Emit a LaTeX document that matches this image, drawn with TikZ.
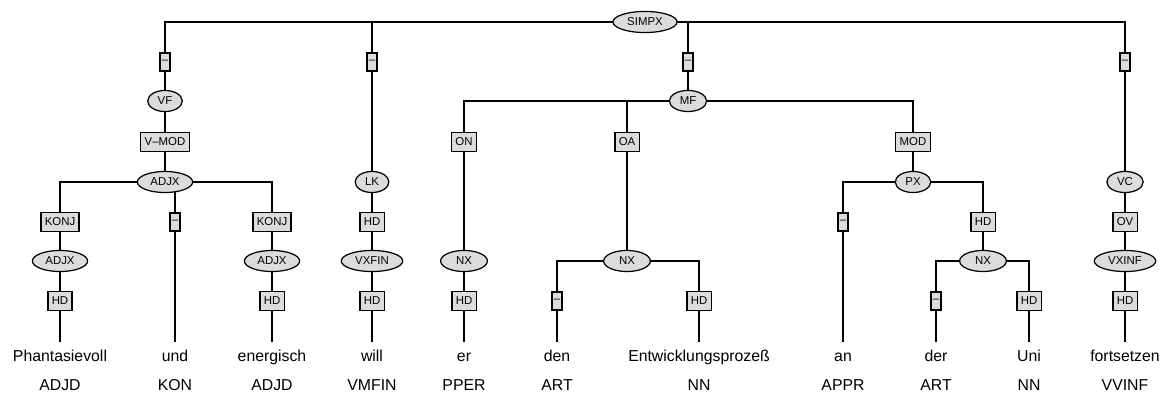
\documentclass[tikz,border=0pt]{standalone}
\usepackage{fontspec}
\setmainfont{Liberation Sans}
\usetikzlibrary{shapes.geometric, backgrounds}

\definecolor{nodegray}{RGB}{219,221,219}

\begin{document}
\begin{tikzpicture}[x=0.02cm, y=-0.02cm,
            catnode/.style={draw, ellipse, fill=nodegray, line width=0.7pt, inner xsep=2.8pt, inner ysep=0.5pt, minimum height=12pt, font=\fontsize{6.5}{7}\selectfont},
            widecat/.style={catnode, minimum width=26.6pt},
            fnbox/.style={draw, rectangle, fill=nodegray, line width=0.7pt, inner xsep=2.2pt, inner ysep=0pt, minimum height=10.8pt, font=\fontsize{6.5}{7}\selectfont},
            dashbox/.style={fnbox, inner xsep=1pt, minimum height=10.2pt},
            wordnode/.style={anchor=base, inner ysep=4.3pt, text height=7pt, font=\fontsize{9}{10}\selectfont},
            tagnode/.style={anchor=base, font=\fontsize{9}{10}\selectfont},
            link/.style={line width=0.7pt}
        ]
        \useasboundingbox (0,0) rectangle (1162,394);

        % --- top level ---
        \node[catnode] (simpx) at (645,22) {SIMPX};

        % --- VF ---
        \node[dashbox] (vfd) at (165,62) {--};
        \node[catnode] (vf) at (165,101) {VF};
        \node[fnbox] (vmod) at (165,142) {V--MOD};
        \node[catnode] (adjx) at (165,182) {ADJX};
        \node[fnbox] (konja) at (60,222) {KONJ};
        \node[catnode] (adjxa) at (60,261) {ADJX};
        \node[fnbox] (hda) at (60,301) {HD};
        \node[dashbox] (kond) at (175,222) {--};
        \node[fnbox] (konjb) at (272,222) {KONJ};
        \node[catnode] (adjxb) at (272,261) {ADJX};
        \node[fnbox] (hdb) at (272,301) {HD};

        % --- LK ---
        \node[dashbox] (lkd) at (372,62) {--};
        \node[catnode] (lk) at (372,182) {LK};
        \node[fnbox] (hdlk) at (372,222) {HD};
        \node[catnode] (vxfin) at (372,261) {VXFIN};
        \node[fnbox] (hdfin) at (372,301) {HD};

        % --- MF ---
        \node[dashbox] (mfd) at (688,62) {--};
        \node[catnode] (mf) at (688,101) {MF};
        \node[fnbox] (on) at (464,142) {ON};
        \node[widecat] (nxon) at (464,261) {NX};
        \node[fnbox] (hdon) at (464,301) {HD};
        \node[fnbox] (oa) at (627,142) {OA};
        \node[widecat] (nxoa) at (627,261) {NX};
        \node[dashbox] (artd) at (557,301) {--};
        \node[fnbox] (hdoa) at (699,301) {HD};
        \node[fnbox] (mod) at (913,142) {MOD};
        \node[catnode] (px) at (913,182) {PX};
        \node[dashbox] (apprd) at (843,222) {--};
        \node[fnbox] (hdpx) at (983,222) {HD};
        \node[widecat] (nxpx) at (983,261) {NX};
        \node[dashbox] (artbd) at (936,301) {--};
        \node[fnbox] (hdnx) at (1029,301) {HD};

        % --- VC ---
        \node[dashbox] (vcd) at (1125,62) {--};
        \node[catnode] (vc) at (1125,182) {VC};
        \node[fnbox] (ov) at (1125,222) {OV};
        \node[catnode] (vxinf) at (1125,261) {VXINF};
        \node[fnbox] (hdinf) at (1125,301) {HD};

        % --- words and tags ---
        \node[wordnode] (wa) at (60,362) {Phantasievoll};
        \node[wordnode] (wb) at (175,362) {und};
        \node[wordnode] (wc) at (272,362) {energisch};
        \node[wordnode] (wd) at (372,362) {will};
        \node[wordnode] (we) at (464,362) {er};
        \node[wordnode] (wf) at (557,362) {den};
        \node[wordnode] (wg) at (699,362) {Entwicklungsprozeß};
        \node[wordnode] (wh) at (843,362) {an};
        \node[wordnode] (wi) at (936,362) {der};
        \node[wordnode] (wj) at (1029,362) {Uni};
        \node[wordnode] (wk) at (1125,362) {fortsetzen};
        \node[tagnode] (ta) at (60,391) {ADJD};
        \node[tagnode] (tb) at (175,391) {KON};
        \node[tagnode] (tc) at (272,391) {ADJD};
        \node[tagnode] (td) at (372,391) {VMFIN};
        \node[tagnode] (te) at (464,391) {PPER};
        \node[tagnode] (tf) at (557,391) {ART};
        \node[tagnode] (tg) at (699,391) {NN};
        \node[tagnode] (th) at (843,391) {APPR};
        \node[tagnode] (ti) at (936,391) {ART};
        \node[tagnode] (tj) at (1029,391) {NN};
        \node[tagnode] (tk) at (1125,391) {VVINF};

        % --- edges ---
        \begin{scope}[on background layer]
        \draw[link] (simpx.center) -| (vfd.center);
        \draw[link] (simpx.center) -| (lkd.center);
        \draw[link] (simpx.center) -| (mfd.center);
        \draw[link] (simpx.center) -| (vcd.center);
        \draw[link] (vfd.center) -- (vf.center) -- (vmod.center) -- (adjx.center);
        \draw[link] (adjx.center) -| (konja.center);
        \draw[link] (adjx.center) -| (konjb.center);
        \draw[link] (adjx.center -| kond.center) -- (kond.center) -- (wb.north);
        \draw[link] (konja.center) -- (adjxa.center) -- (hda.center) -- (wa.north);
        \draw[link] (konjb.center) -- (adjxb.center) -- (hdb.center) -- (wc.north);
        \draw[link] (lkd.center) -- (lk.center) -- (hdlk.center) -- (vxfin.center) -- (hdfin.center) -- (wd.north);
        \draw[link] (mfd.center) -- (mf.center);
        \draw[link] (mf.center) -| (on.center);
        \draw[link] (mf.center) -| (oa.center);
        \draw[link] (mf.center) -| (mod.center);
        \draw[link] (on.center) -- (nxon.center) -- (hdon.center) -- (we.north);
        \draw[link] (oa.center) -- (nxoa.center);
        \draw[link] (nxoa.center) -| (artd.center);
        \draw[link] (nxoa.center) -| (hdoa.center);
        \draw[link] (artd.center) -- (wf.north);
        \draw[link] (hdoa.center) -- (wg.north);
        \draw[link] (mod.center) -- (px.center);
        \draw[link] (px.center) -| (apprd.center);
        \draw[link] (px.center) -| (hdpx.center);
        \draw[link] (apprd.center) -- (wh.north);
        \draw[link] (hdpx.center) -- (nxpx.center);
        \draw[link] (nxpx.center) -| (artbd.center);
        \draw[link] (nxpx.center) -| (hdnx.center);
        \draw[link] (artbd.center) -- (wi.north);
        \draw[link] (hdnx.center) -- (wj.north);
        \draw[link] (vcd.center) -- (vc.center) -- (ov.center) -- (vxinf.center) -- (hdinf.center) -- (wk.north);
        \end{scope}

        \end{tikzpicture}
\end{document}
